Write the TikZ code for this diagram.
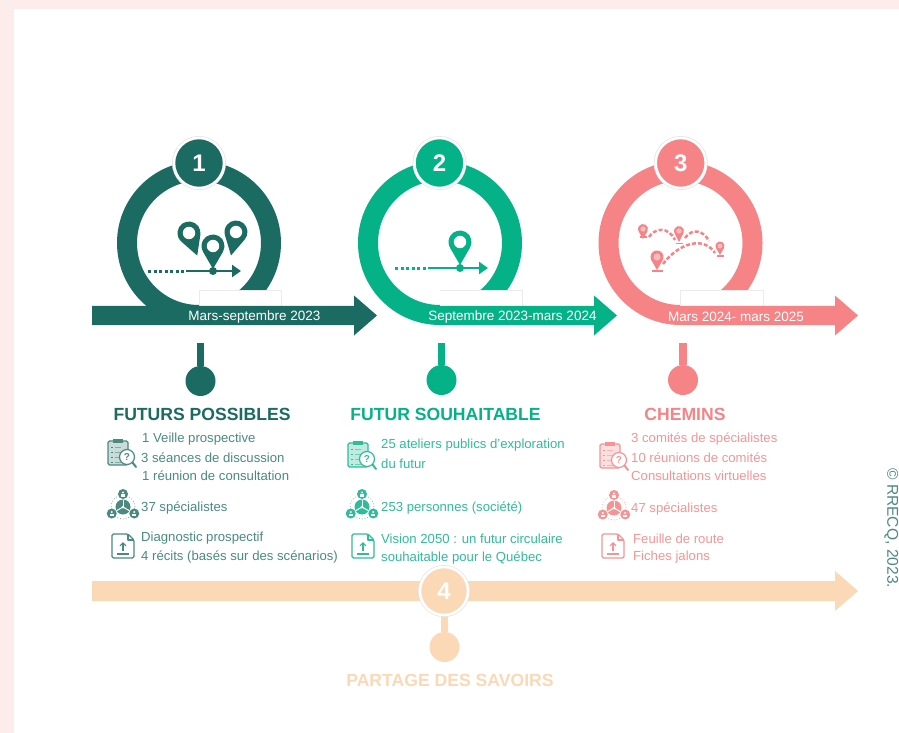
\documentclass[tikz,border=0pt]{standalone}
\usepackage{fontspec}
\setmainfont{Liberation Sans}
\usetikzlibrary{arrows.meta,calc}
\definecolor{cteal}{HTML}{1B6B63}
\definecolor{cgreen}{HTML}{05B287}
\definecolor{ccoral}{HTML}{F68486}
\definecolor{cpeach}{HTML}{FBD8B6}
\definecolor{cpage}{HTML}{FCECEB}
\definecolor{tteal}{HTML}{4A8A81}
\definecolor{tgreen}{HTML}{30BC9A}
\definecolor{tcoral}{HTML}{F69495}
\tikzset{
  numc/.style={circle,fill=#1,draw=white,line width=2.5pt,minimum size=50pt,inner sep=0pt,text=white,font=\fontsize{24}{24}\selectfont\bfseries,preaction={draw=black!10,line width=4pt}},
  dotc/.style={circle,fill=#1,minimum size=30pt,inner sep=0pt},
  stem/.style={draw=#1,line width=7.5pt},
  ring/.style={draw=#1,line width=20pt},
  cutbox/.style={draw=black!8,line width=.5pt},
  datelab/.style={text=white,font=\fontsize{13.5}{15}\selectfont,inner sep=0pt},
  headlab/.style={font=\fontsize{17.6}{19}\selectfont\bfseries,inner sep=0pt,text=#1},
  bodylab/.style={font=\fontsize{13.15}{15}\selectfont,inner sep=0pt,anchor=west,text=#1},
}
\newcommand{\timearrow}[5]{%
  \fill[#4] (#1,-#3+#5) -- (#2-23,-#3+#5) -- (#2-23,-#3+20) -- (#2,-#3) -- (#2-23,-#3-20) -- (#2-23,-#3-#5) -- (#1,-#3-#5) -- cycle;}
\newcommand{\pinmark}[7]{% x,y,r,L,rot,colour,hole
  \begin{scope}[shift={(#1,-#2)},rotate=#5]
  \pgfmathsetmacro{\pa}{acos(#3/#4)}
  \fill[#6] (0,-#4) -- (\pa-90:#3) arc[start angle=\pa-90,end angle=270-\pa,radius=#3] -- cycle;
  \fill[#7] (0,0) circle[radius=#3*0.54];
  \end{scope}}
\newcommand{\clipicon}[3]{%
  \begin{scope}[shift={(#1,-#2)}]
  \draw[#3,line width=1.1pt,fill=#3!30,rounded corners=1.5pt] (-10,-12) rectangle (10,12);
  \fill[#3] (-5,10.5) rectangle (5,14);
  \foreach \ly in {6,1,-4,-9}{\draw[#3,line width=1pt] (-7,\ly) -- (-5,\ly);\draw[#3!70,line width=1pt] (-3,\ly) -- (3,\ly);}
  \draw[#3,line width=1.2pt,fill=white] (9,-4) circle[radius=7.5];
  \node[text=#3,inner sep=0pt,font=\fontsize{10}{10}\selectfont\bfseries] at (9,-4) {?};
  \draw[#3,line width=2pt,line cap=round] (14.5,-9.5) -- (18,-14);
  \end{scope}}
\newcommand{\usersicon}[3]{%
  \begin{scope}[shift={(#1,-#2)}]
  \draw[#3!70,line width=.8pt,dotted] (0,0) circle[radius=12];
  \fill[#3] (0,0) circle[radius=7.5];
  \foreach \pa in {90,210,330}{\draw[white,line width=1pt] (0,0) -- (\pa:7.5);}
  \fill[white] (0,0) circle[radius=1.5];
  \foreach \pa in {90,210,330}{
    \fill[#3] (\pa:13) circle[radius=5];
    \fill[white] ($(\pa:13)+(0,1.5)$) circle[radius=1.2];
    \fill[white] ($(\pa:13)+(-1.8,-2.5)$) rectangle ($(\pa:13)+(1.8,-.4)$);}
  \end{scope}}
\newcommand{\docicon}[3]{%
  \begin{scope}[shift={(#1,-#2)}]
  \draw[#3,line width=1.3pt,line join=round,rounded corners=1.5pt] (5,12) -- (-11,12) -- (-11,-12) -- (11,-12) -- (11,6) -- cycle;
  \draw[#3,line width=1.1pt,line join=round] (5,12) -- (5,6) -- (11,6);
  \draw[#3,line width=1.2pt,-{Straight Barb[length=3pt,width=6pt]}] (0,-5) -- (0,4);
  \draw[#3,line width=1.3pt] (-6,-8) -- (6,-8);
  \end{scope}}
\begin{document}
\begin{tikzpicture}[x=1pt,y=1pt]
\useasboundingbox (0,-733) rectangle (899,0);
\fill[cpage] (0,-733) rectangle (899,0);
\fill[white] (14,-733) rectangle (899,-9);
% rings
\draw[ring=cteal] (199,-243) circle[radius=72];
\draw[ring=cgreen] (440,-243) circle[radius=72];
\draw[ring=ccoral] (680.5,-243) circle[radius=72];
\fill[white] (199,-306) rectangle (281.5,-290);
\fill[white] (440,-306) rectangle (522,-290);
\fill[white] (680.5,-306) rectangle (763,-290);
\draw[cutbox] (199,-306) |- (281.5,-290) -- (281.5,-306);
\draw[cutbox] (440,-290) -- (522,-290) -- (522,-306);
\draw[cutbox] (680.5,-306) |- (763,-290) -- (763,-306);
% arrows
\timearrow{92}{377}{315.5}{cteal}{9.7}
\timearrow{440}{617}{315.5}{cgreen}{9.7}
\timearrow{680.5}{858}{315.5}{ccoral}{9.7}
\timearrow{92}{858}{591}{cpeach}{10}
% date labels
\node[datelab] (d1) at (254.5,-316.7) {Mars-septembre 2023};
\node[datelab] (d2) at (512.5,-316.7) {Septembre 2023-mars 2024};
\node[datelab] (d3) at (736,-316.7) {Mars 2024- mars 2025};
% numbered circles
\node[numc=cteal] (n1) at (199,-163) {1};
\node[numc=cgreen] (n2) at (439.5,-163) {2};
\node[numc=ccoral] (n3) at (680.7,-163) {3};
% stems and dots
\coordinate (s1) at (200.5,-343);
\coordinate (s2) at (441.5,-343);
\coordinate (s3) at (683,-343);
\coordinate (s4) at (444.5,-600);
\node[dotc=cteal] (p1) at (200.5,-381) {};
\node[dotc=cgreen] (p2) at (441.5,-380) {};
\node[dotc=ccoral] (p3) at (683,-380) {};
\node[dotc=cpeach] (p4) at (444.5,-647) {};
\draw[stem=cteal] (s1) -- (p1);
\draw[stem=cgreen] (s2) -- (p2);
\draw[stem=ccoral] (s3) -- (p3);
\draw[stem=cpeach] (s4) -- (p4);
\node[numc=cpeach,minimum size=48pt] (n4) at (444,-591) {4};
% headings
\node[headlab=cteal] (h1) at (202,-414.5) {FUTURS POSSIBLES};
\node[headlab=cgreen] (h2) at (445.5,-414.5) {FUTUR SOUHAITABLE};
\node[headlab=ccoral] (h3) at (685,-414.5) {CHEMINS};
\node[headlab=cpeach] (h4) at (450,-680) {PARTAGE DES SAVOIRS};
% body column 1
\node[bodylab=tteal] (a1) at (142,-439) {1 Veille prospective};
\node[bodylab=tteal] (a2) at (141,-457.5) {3 séances de discussion};
\node[bodylab=tteal] (a3) at (142,-476) {1 réunion de consultation};
\node[bodylab=tteal] (a4) at (141,-508) {37 spécialistes};
\node[bodylab=tteal] (a5) at (141,-538.5) {Diagnostic prospectif};
\node[bodylab=tteal] (a6) at (141,-557) {4 récits (basés sur des scénarios)};
% body column 2
\node[bodylab=tgreen] (b1) at (381,-445.5) {25 ateliers publics d'exploration};
\node[bodylab=tgreen] (b2) at (381,-464) {du futur};
\node[bodylab=tgreen] (b3) at (381,-508) {253 personnes (société)};
\node[bodylab=tgreen] (b4) at (381,-539) {Vision 2050 : un futur circulaire};
\node[bodylab=tgreen] (b5) at (381,-558) {souhaitable pour le Québec};
% body column 3
\node[bodylab=tcoral] (c1) at (631,-439) {3 comités de spécialistes};
\node[bodylab=tcoral] (c2) at (631,-457.5) {10 réunions de comités};
\node[bodylab=tcoral] (c3) at (631,-476) {Consultations virtuelles};
\node[bodylab=tcoral] (c4) at (631,-509) {47 spécialistes};
\node[bodylab=tcoral] (c5) at (633,-539) {Feuille de route};
\node[bodylab=tcoral] (c6) at (633,-557) {Fiches jalons};
% small icons
\clipicon{118}{453}{tteal}
\clipicon{358}{455}{tgreen}
\clipicon{610}{456}{tcoral}
\usersicon{123}{507}{tteal}
\usersicon{362}{507}{tgreen}
\usersicon{614}{508}{tcoral}
\docicon{123}{546}{tteal}
\docicon{363}{546}{tgreen}
\docicon{613}{546}{tcoral}
% ring 1 picture
\pinmark{189}{233}{11.5}{24}{20}{cteal}{white}
\pinmark{236}{232}{11.5}{24}{-12}{cteal}{white}
\pinmark{213}{246}{11.5}{23}{0}{cteal}{white}
\draw[cteal,line width=3pt,dash pattern=on 3pt off 2.5pt] (148,-271) -- (186,-271);
\draw[cteal,line width=2.5pt,-{Triangle[length=9pt,width=12pt]}] (186,-271) -- (241,-271);
\fill[cteal] (213,-271) circle[radius=4];
% ring 2 picture
\pinmark{460}{242}{11.5}{23}{0}{cgreen}{white}
\draw[cgreen,line width=3pt,dash pattern=on 3pt off 2.5pt] (395,-268) -- (428,-268);
\draw[cgreen,line width=2.5pt,-{Triangle[length=9pt,width=12pt]}] (428,-268) -- (488,-268);
\fill[cgreen] (460,-268) circle[radius=4];
% ring 3 picture
\pinmark{643}{229}{5}{10}{0}{ccoral}{ccoral!55}
\pinmark{679}{231}{5}{11}{0}{ccoral}{ccoral!55}
\pinmark{720}{246}{4.5}{9}{0}{ccoral}{ccoral!55}
\pinmark{657}{257}{6.5}{13}{0}{ccoral}{ccoral!55}
\foreach \bx/\by/\bw in {643/237/3.5,679/243.5/3.5,720/256/3.5,657/271/5.5}{\draw[ccoral,line width=1.2pt] (\bx-\bw,-\by) -- (\bx+\bw,-\by);}
\draw[ccoral,line width=2.5pt,dash pattern=on 4pt off 2pt] (649,-237) .. controls (655,-228) and (668,-226) .. (675,-240);
\draw[ccoral,line width=2.5pt,dash pattern=on 4pt off 2pt] (685,-238) .. controls (692,-228) and (703,-230) .. (709,-241);
\draw[ccoral,line width=2.5pt,dash pattern=on 4pt off 2pt] (663,-264) .. controls (678,-244) and (703,-235) .. (715,-253);
% credit
\node[rotate=-90,anchor=north west,inner sep=0pt,text=tteal,font=\fontsize{15.6}{17}\selectfont] (cr) at (898.5,-468) {© RRECQ, 2023.};
\end{tikzpicture}
\end{document}
